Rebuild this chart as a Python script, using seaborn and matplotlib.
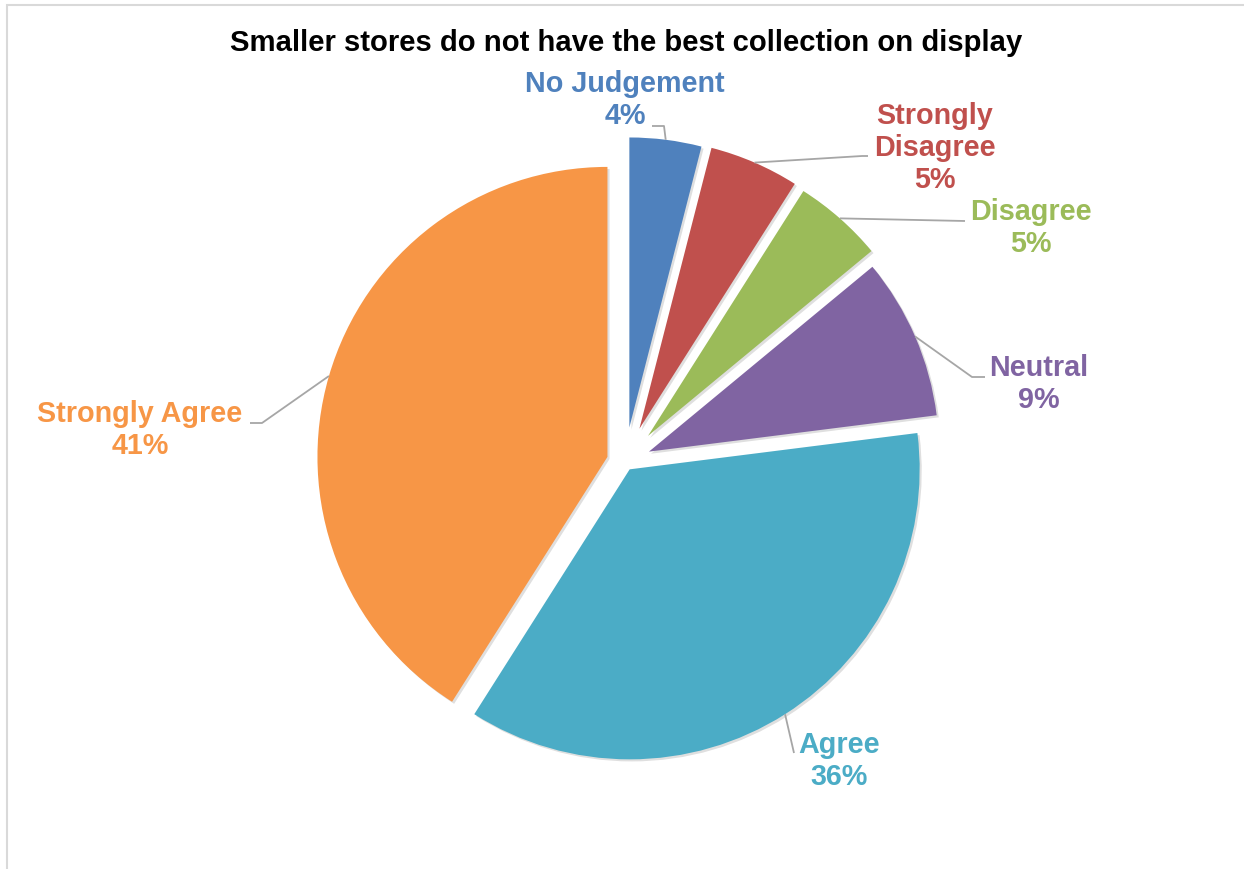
import matplotlib
matplotlib.use("Agg")
import numpy as np
import matplotlib.pyplot as plt
import matplotlib.patheffects as pe
from matplotlib.patches import Rectangle
import seaborn as sns

# Survey answers, in the order the slices run clockwise from 12 o'clock
categories = ["No Judgement", "Strongly Disagree", "Disagree", "Neutral", "Agree", "Strongly Agree"]
shares = [4, 5, 5, 9, 36, 41]
label_lines = ["No Judgement", "Strongly\nDisagree", "Disagree", "Neutral", "Agree", "Strongly Agree"]
colors = ["#4F81BD", "#C0504D", "#9BBB59", "#8064A2", "#4BACC6", "#F79646"]
explode = [0.12, 0.125, 0.12, 0.09, 0.03, 0.063]
title = "Smaller stores do not have the best collection on display"

sns.set_theme(style="white")
plt.rcParams["font.family"] = ["Liberation Sans", "DejaVu Sans"]

W, H = 1244, 869
fig = plt.figure(figsize=(W / 100, H / 100), dpi=100)
ax = fig.add_axes([0, 0, 1, 1])

# pie centre and radius in pixels; axes limits map one data unit to R pixels
CX, CY, R = 625, 462, 290


def px(x, y):
    return ((x - CX) / R, (CY - y) / R)


wedges, _ = ax.pie(
    shares, colors=colors, explode=explode, startangle=90, counterclock=False,
    radius=1, wedgeprops=dict(linewidth=0),
)
for w in wedges:
    w.set_path_effects([
        pe.SimplePatchShadow(offset=(1.5, -1.5), shadow_rgbFace="#808080", alpha=0.25),
        pe.Normal(),
    ])

ax.set_xlim(-CX / R, (W - CX) / R)
ax.set_ylim(-(H - CY) / R, CY / R)
ax.set_aspect("auto")
ax.axis("off")

# label block centres and leader-line elbows (pixels)
label_pos = [(625, 100), (935, 148), (1031, 228), (1039, 384), (839, 761), (140, 430)]
elbows = [
    [(664, 126), (652, 126)],
    [(862, 156), (868, 156)],
    [(965, 221)],
    [(972, 377), (985, 377)],
    [(794, 753)],
    [(262, 423), (250, 423)],
]

for w, name, share, col, pos, elb in zip(wedges, label_lines, shares, colors, label_pos, elbows):
    mid = np.deg2rad((w.theta1 + w.theta2) / 2)
    cx, cy = w.center
    start = (cx + w.r * np.cos(mid), cy + w.r * np.sin(mid))
    pts = [start] + [px(*p) for p in elb]
    xs, ys = zip(*pts)
    ax.plot(xs, ys, color="#A6A6A6", lw=1.3, solid_capstyle="butt", zorder=1)
    tx, ty = px(*pos)
    ax.text(tx, ty, f"{name}\n{share}%", color=col, fontsize=20.7, fontweight="bold",
            ha="center", va="center", linespacing=1.2)

fig.text(626 / W, 1 - 43 / H, title, ha="center", va="center",
         fontsize=21.05, fontweight="bold", color="black")

# chart frame
fig.add_artist(Rectangle((7 / W, -0.1), 1.2, 1 - 5 / H + 0.1, transform=fig.transFigure,
                         fill=False, edgecolor="#D9D9D9", lw=1.5))

fig.savefig("out.png", dpi=100)
